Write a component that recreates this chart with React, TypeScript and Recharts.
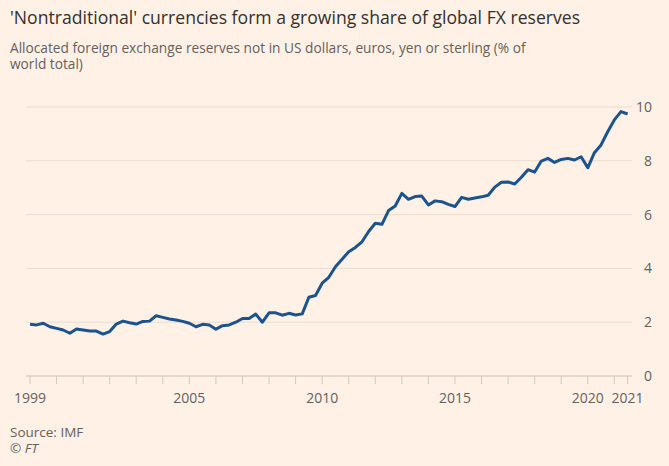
import React from "react";
import { LineChart, Line, XAxis, YAxis, CartesianGrid } from "recharts";

// Quarterly share (%) of allocated FX reserves not in USD, EUR, JPY or GBP, 1999 Q1 to 2021 Q3
const firstYear = 1999;
const shareValues = [
  1.92, 1.9, 1.96, 1.83,
  1.77, 1.71, 1.59, 1.75,
  1.71, 1.67, 1.67, 1.56,
  1.65, 1.93, 2.04, 1.98,
  1.93, 2.03, 2.04, 2.24,
  2.18, 2.12, 2.08, 2.03,
  1.96, 1.83, 1.92, 1.9,
  1.74, 1.87, 1.9, 2.0,
  2.14, 2.14, 2.3, 2.0,
  2.35, 2.35, 2.26, 2.33,
  2.27, 2.31, 2.93, 2.99,
  3.45, 3.67, 4.06, 4.34,
  4.62, 4.78, 4.99, 5.37,
  5.68, 5.64, 6.15, 6.32,
  6.79, 6.57, 6.67, 6.69,
  6.36, 6.51, 6.48, 6.38,
  6.3, 6.64, 6.57, 6.62,
  6.66, 6.72, 7.02, 7.2,
  7.21, 7.14, 7.39, 7.67,
  7.58, 7.99, 8.09, 7.94,
  8.05, 8.09, 8.03, 8.15,
  7.74, 8.3, 8.59, 9.08,
  9.52, 9.83, 9.74,
];

const yearTicks = [
  1999, 2000, 2001, 2002, 2003, 2004, 2005, 2006, 2007, 2008, 2009, 2010,
  2011, 2012, 2013, 2014, 2015, 2016, 2017, 2018, 2019, 2020, 2021, 2021.5,
];
const yearLabels: Record<number, string> = {
  1999: "1999",
  2005: "2005",
  2010: "2010",
  2015: "2015",
  2020: "2020",
  2021.5: "2021",
};
const valueTicks = [0, 2, 4, 6, 8, 10];

const chartData = shareValues.map((share, i) => ({
  date: firstYear + i / 4,
  share,
}));

const FONT = "'Open Sans', sans-serif";
const MUTED = "#66605c";

export default function App() {
  return (
    <div
      style={{
        position: "relative",
        width: 669,
        height: 466,
        background: "#fff1e5",
        fontFamily: FONT,
      }}
    >
      <style>{"body{margin:0}"}</style>
      <LineChart
        width={669}
        height={466}
        data={chartData}
        margin={{ top: 107, right: 7, left: 26, bottom: 60 }}
      >
        <CartesianGrid vertical={false} stroke="#e9dccf" strokeWidth={1} />
        <XAxis
          dataKey="date"
          type="number"
          domain={[1998.85, 2021.665]}
          ticks={yearTicks}
          interval={0}
          tickFormatter={(v: number) => yearLabels[v] ?? ""}
          height={30}
          tickSize={8}
          tickMargin={9}
          axisLine={{ stroke: "#d5c8bc" }}
          tickLine={{ stroke: "#d5c8bc" }}
          tick={{ fill: MUTED, fontSize: 14, fontFamily: FONT }}
        />
        <YAxis
          orientation="right"
          domain={[0, 10]}
          ticks={valueTicks}
          width={30}
          axisLine={false}
          tickLine={false}
          tickSize={0}
          tickMargin={20}
          tick={{ fill: MUTED, fontSize: 14, fontFamily: FONT, textAnchor: "end" }}
        />
        <Line
          type="linear"
          dataKey="share"
          stroke="#1b5390"
          strokeWidth={3}
          strokeLinejoin="round"
          dot={false}
          isAnimationActive={false}
        />
      </LineChart>
      <svg
        width={669}
        height={466}
        style={{ position: "absolute", left: 0, top: 0, pointerEvents: "none" }}
      >
        <text x={10} y={24} fontSize={17.6} fill="#33302e" fontFamily={FONT}>
          'Nontraditional' currencies form a growing share of global FX reserves
        </text>
        <text x={10} y={53} fontSize={13.7} fill={MUTED} fontFamily={FONT}>
          Allocated foreign exchange reserves not in US dollars, euros, yen or sterling (% of
        </text>
        <text x={10} y={69} fontSize={13.7} fill={MUTED} fontFamily={FONT}>
          world total)
        </text>
        <text x={10} y={437} fontSize={13.5} fill={MUTED} fontFamily={FONT}>
          Source: IMF
        </text>
        <text x={10} y={453} fontSize={13.5} fill={MUTED} fontFamily={FONT} fontStyle="italic">
          © FT
        </text>
      </svg>
    </div>
  );
}
